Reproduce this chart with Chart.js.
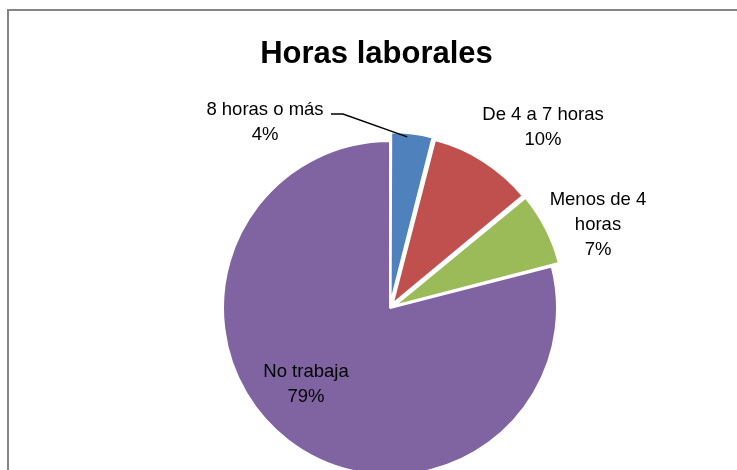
<!DOCTYPE html>
<html lang="es">
<head>
<meta charset="utf-8">
<title>Horas laborales</title>
<script src="https://cdn.jsdelivr.net/npm/chart.js@4/dist/chart.umd.min.js"></script>
<style>
  html, body { margin: 0; padding: 0; background: #fff; overflow: hidden; }
  .frame {
    position: absolute; left: 7px; top: 9px; width: 740px; height: 470px;
    border-left: 2px solid #858585; border-top: 2px solid #858585;
  }
  .wrap { position: absolute; left: 0; top: 0; width: 737px; height: 470px; }
</style>
</head>
<body>
<div class="frame"></div>
<div class="wrap"><canvas id="chart"></canvas></div>
<script>
// ── Data ──
const categories = ['8 horas o más', 'De 4 a 7 horas', 'Menos de 4 horas', 'No trabaja'];
const values     = [4, 10, 7, 79];
const labelLines = [['8 horas o más'], ['De 4 a 7 horas'], ['Menos de 4', 'horas'], ['No trabaja']];
const colors     = ['#4F81BD', '#C0504D', '#9BBB59', '#8064A2'];

// ── Label placement, relative to the pie centre ──
const labelPos = [
  { dx: -125, dy: -193 },
  { dx:  153, dy: -188 },
  { dx:  208, dy: -103 },
  { dx:  -84, dy:   69 },
];
const LINE_H = 25;

// Chart.js moves an arc by offset/4 px
const EXPLODE = 5;

// ══════════════════════════════════════════════
// PLUGIN: title, data labels, leader line
// ══════════════════════════════════════════════
const pieText = {
  id: 'pieText',
  afterDatasetsDraw(chart) {
    const ctx   = chart.ctx;
    const arcs  = chart.getDatasetMeta(0).data;
    const total = values.reduce((s, v) => s + v, 0);

    ctx.save();
    ctx.fillStyle = '#000';
    ctx.textAlign = 'center';
    ctx.textBaseline = 'alphabetic';

    // title
    ctx.font = "bold 31px 'Liberation Sans', Arial, sans-serif";
    ctx.fillText('Horas laborales', 376.5, 63);

    // leader line for the small blue slice (touches its outer edge)
    const a0  = arcs[0];
    const mid = a0.startAngle + (a0.endAngle - a0.startAngle) * 0.4;
    const rr  = a0.outerRadius + EXPLODE;
    ctx.strokeStyle = '#000';
    ctx.lineWidth = 1.5;
    ctx.beginPath();
    ctx.moveTo(a0.x - 59, a0.y - 194);
    ctx.lineTo(a0.x - 47, a0.y - 194);
    ctx.lineTo(a0.x + Math.cos(mid) * rr, a0.y + Math.sin(mid) * rr);
    ctx.stroke();

    // labels
    ctx.font = "18.5px 'Liberation Sans', Arial, sans-serif";
    arcs.forEach((arc, i) => {
      const pct   = Math.round(values[i] / total * 100) + '%';
      const lines = labelLines[i].concat(pct);
      const p     = labelPos[i];
      lines.forEach((txt, k) => {
        ctx.fillText(txt, arc.x + p.dx, arc.y + p.dy + k * LINE_H);
      });
    });
    ctx.restore();
  }
};

// ══════════════════════════════════════════════
// CHART
// ══════════════════════════════════════════════
new Chart(document.getElementById('chart'), {
  type: 'pie',
  data: {
    labels: categories,
    datasets: [{
      data: values,
      backgroundColor: colors,
      borderColor: '#fff',
      borderWidth: 2,
      offset: [EXPLODE * 4, EXPLODE * 4, EXPLODE * 4, 0],
      radius: 167,
      clip: false,
    }]
  },
  options: {
    responsive: true,
    maintainAspectRatio: false,
    animation: false,
    events: [],
    layout: { padding: { left: 43, top: 146, right: 0, bottom: 0 } },
    plugins: {
      legend:  { display: false },
      title:   { display: false },
      tooltip: { enabled: false },
    },
  },
  plugins: [pieText],
});
</script>
</body>
</html>
